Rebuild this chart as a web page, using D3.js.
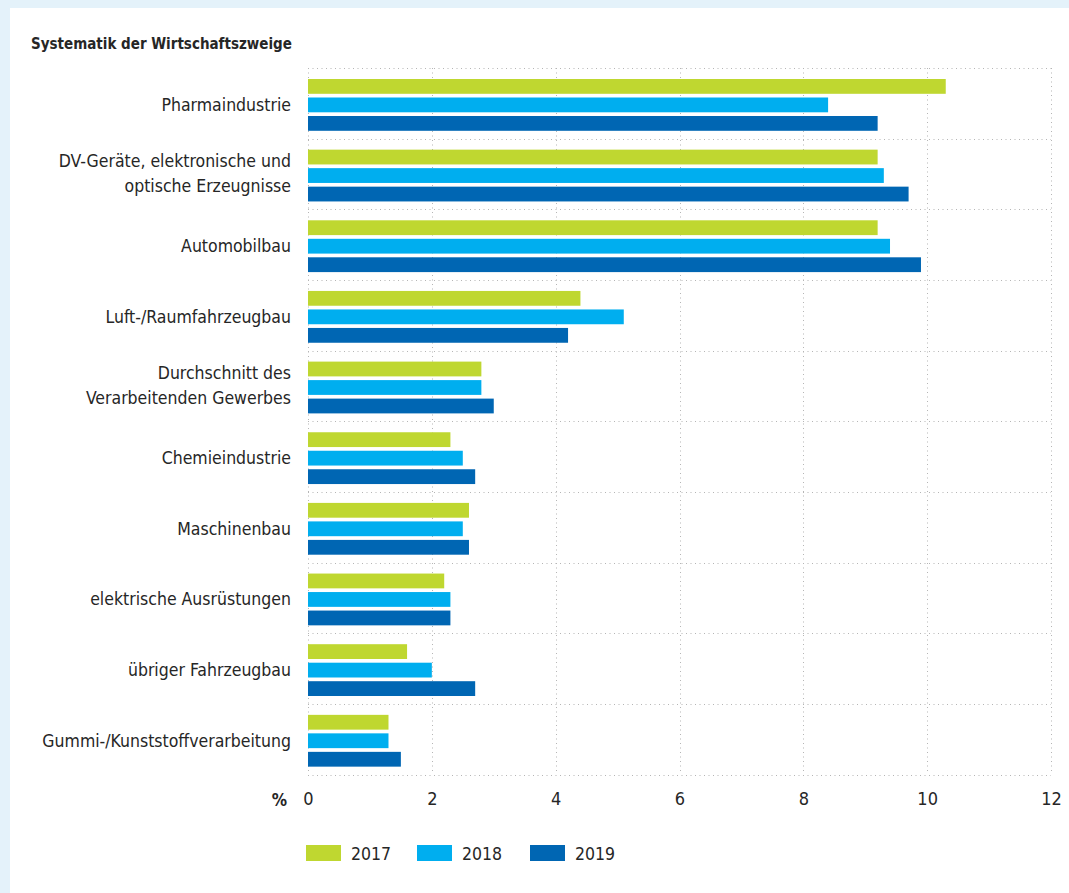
<!DOCTYPE html>
<html><head><meta charset="utf-8">
<script src="https://cdn.jsdelivr.net/npm/d3@7"></script>
<style>
body{margin:0;background:#e4f2fa;}
svg{display:block;}
text{font-family:"DejaVu Sans Condensed","DejaVu Sans",sans-serif;fill:#262626;}
</style></head><body>
<svg id="chart" width="1069" height="893"></svg>
<script>
const categories = [
  ["Pharmaindustrie"],
  ["DV-Geräte, elektronische und","optische Erzeugnisse"],
  ["Automobilbau"],
  ["Luft-/Raumfahrzeugbau"],
  ["Durchschnitt des","Verarbeitenden Gewerbes"],
  ["Chemieindustrie"],
  ["Maschinenbau"],
  ["elektrische Ausrüstungen"],
  ["übriger Fahrzeugbau"],
  ["Gummi-/Kunststoffverarbeitung"]
];
const years = ["2017","2018","2019"];
const colors = ["#bfd730","#00aeef","#0066b3"];
const values2017 = [10.3, 9.2, 9.2, 4.4, 2.8, 2.3, 2.6, 2.2, 1.6, 1.3];
const values2018 = [8.4, 9.3, 9.4, 5.1, 2.8, 2.5, 2.5, 2.3, 2.0, 1.3];
const values2019 = [9.2, 9.7, 9.9, 4.2, 3.0, 2.7, 2.6, 2.3, 2.7, 1.5];
const tickValues = [0,2,4,6,8,10,12];
const title = "Systematik der Wirtschaftszweige";

const series = [values2017, values2018, values2019];
const svg = d3.select("#chart");
svg.append("rect").attr("x",0).attr("y",0).attr("width",1069).attr("height",893).attr("fill","#e4f2fa");
svg.append("rect").attr("x",10).attr("y",8).attr("width",1059).attr("height",885).attr("fill","#ffffff");

const x = d3.scaleLinear().domain([0,12]).range([308,1051]);
const keys = categories.map((c,i)=>i);
const y = d3.scaleBand().domain(keys).range([68,774.5]).padding(0);
const yi = d3.scaleBand().domain(years).range([11,62.8]).paddingInner(0.2).paddingOuter(0);

// title
svg.append("text").attr("x",31).attr("y",49).attr("font-size",15).attr("font-weight","bold").text(title);

// grid
const grid = svg.append("g").attr("stroke","#b5b5b5").attr("stroke-width",1).attr("stroke-dasharray","1,3.5");
keys.concat([keys.length]).forEach(k=>{
  const yy = k<keys.length ? y(k) : y(keys.length-1)+y.bandwidth();
  grid.append("line").attr("x1",x(0)).attr("x2",x(12)).attr("y1",Math.round(yy)+0.5).attr("y2",Math.round(yy)+0.5);
});
tickValues.forEach(t=>{
  grid.append("line").attr("x1",Math.round(x(t))+0.5).attr("x2",Math.round(x(t))+0.5).attr("y1",68).attr("y2",774.5);
});

// bars
const g = svg.append("g");
years.forEach((yr,si)=>{
  g.selectAll(".b"+yr).data(series[si]).enter().append("rect")
    .attr("x",x(0)).attr("y",(d,i)=>y(i)+yi(yr))
    .attr("width",d=>x(d)-x(0)).attr("height",yi.bandwidth())
    .attr("fill",colors[si]);
});

// category labels
categories.forEach((lines,i)=>{
  const cy = y(i)+yi("2017") + (yi("2019")+yi.bandwidth()-yi("2017"))/2;
  const t = svg.append("text").attr("text-anchor","end").attr("font-size",17.5);
  if(lines.length===1){
    t.append("tspan").attr("x",291).attr("y",cy+6).text(lines[0]);
  } else {
    t.append("tspan").attr("x",291).attr("y",cy-9).text(lines[0]);
    t.append("tspan").attr("x",291).attr("y",cy+16).text(lines[1]);
  }
});

// x axis
const axis = d3.axisBottom(x).tickValues(tickValues).tickSize(0).tickPadding(0).tickFormat(d3.format("d"));
const ax = svg.append("g").attr("transform","translate(0,792)").call(axis);
ax.select(".domain").remove();
ax.selectAll("text").attr("font-size",18).attr("dy","0.71em").attr("fill","#262626").attr("font-family",'"DejaVu Sans Condensed","DejaVu Sans",sans-serif');
svg.append("text").attr("x",287).attr("y",806).attr("text-anchor","end").attr("font-size",17).attr("font-weight","bold").text("%");

// legend
const lg = svg.append("g");
const legendX = [306,417,530];
years.forEach((yr,i)=>{
  lg.append("rect").attr("x",legendX[i]).attr("y",845).attr("width",35).attr("height",16).attr("fill",colors[i]);
  lg.append("text").attr("x",legendX[i]+45).attr("y",860).attr("font-size",17.5).text(yr);
});
</script>
</body></html>
